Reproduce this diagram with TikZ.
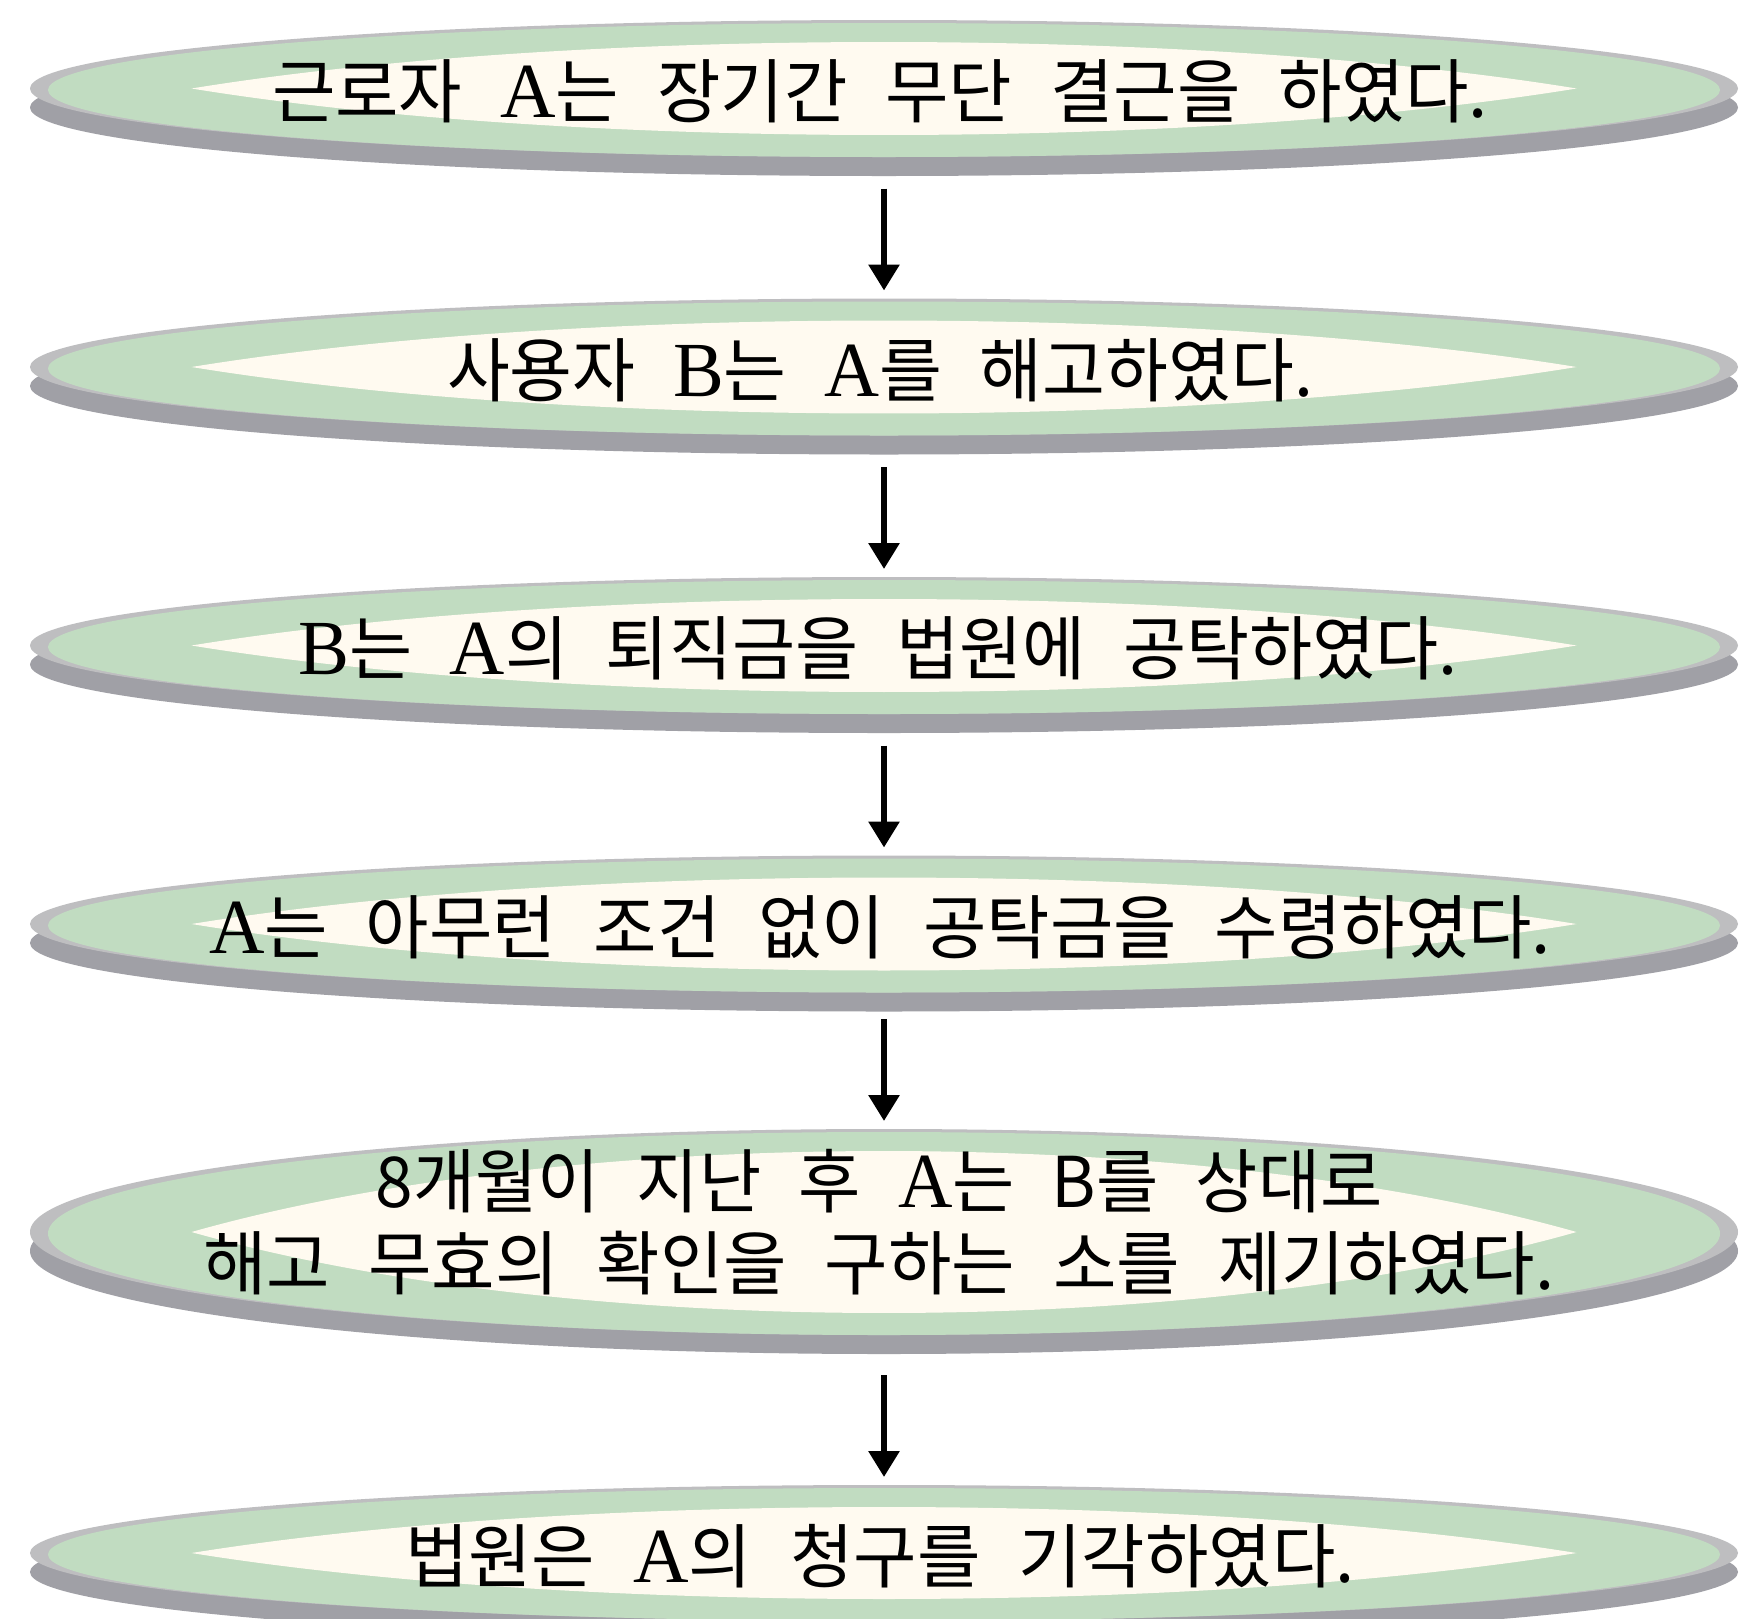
\documentclass[tikz,border=0pt]{standalone}
\usepackage{fontspec}
\usepackage{graphicx}
\usetikzlibrary{arrows.meta}
\newfontfamily\ko{Noto Sans CJK KR}
\newfontfamily\ser{Liberation Serif}
\newcommand\serA{{\ser\fontsize{78pt}{78pt}\selectfont A}}
\newcommand\serB{{\ser\fontsize{78pt}{78pt}\selectfont B}}
\newsavebox\fitbox
\newcommand\fitw[2]{\sbox\fitbox{\spaceskip=0.55em\relax #2}\pgfmathsetmacro\fitf{#1/\wd\fitbox}\scalebox{\fitf}[1]{\usebox\fitbox}}
\definecolor{shadowgray}{RGB}{160,160,166}
\definecolor{rimgray}{RGB}{190,190,192}
\definecolor{discgreen}{RGB}{193,220,193}
\definecolor{creamc}{RGB}{255,250,240}
\newcommand\Disc[3]{%
  \fill[shadowgray] (884,#2+19) ellipse [x radius=854, y radius=#3];
  \fill[rimgray] (884,#2) ellipse [x radius=854, y radius=#3];
  \fill[discgreen] (884,#2+1.5) ellipse [x radius=836, y radius=#3-1.5];
  \fill[creamc] (191.5,#2) .. controls (884-0.45*692.5,#2-1.333*#3+1.333*22) and (884+0.45*692.5,#2-1.333*#3+1.333*22) .. (1576.5,#2)
     .. controls (884+0.45*692.5,#2+1.333*#3-1.333*22) and (884-0.45*692.5,#2+1.333*#3-1.333*22) .. (191.5,#2) -- cycle;
  \coordinate (#1in) at (884,#2-#3-8);
  \coordinate (#1from) at (884,#2-#3-110);
}
\tikzset{
  txt/.style={inner sep=0pt, font=\ko\fontsize{70pt}{82pt}\selectfont},
  arr/.style={line width=6pt, -{Triangle[length=26pt,width=30pt]}}
}
\begin{document}
\begin{tikzpicture}[x=1pt,y=-1pt]
\useasboundingbox (0,0) rectangle (1741,1618);
\clip (0,0) rectangle (1741,1618);
\fill[white] (0,0) rectangle (1741,1618);
\Disc{d1}{88.5}{68.5}
\Disc{d2}{367}{68.5}
\Disc{d3}{645.5}{68.5}
\Disc{d4}{924}{68.5}
\Disc{d5}{1232}{103}
\Disc{d6}{1553}{68}
\node[txt] (n1) at (880,91.5) {\fitw{1216}{근로자 \serA{}는 장기간 무단 결근을 하였다.}};
\node[txt] (n2) at (880,370) {\fitw{866}{사용자 \serB{}는 \serA{}를 해고하였다.}};
\node[txt] (n3) at (878,648.5) {\fitw{1160}{\serB{}는 \serA{}의 퇴직금을 법원에 공탁하였다.}};
\node[txt] (n4) at (880,927) {\fitw{1342}{\serA{}는 아무런 조건 없이 공탁금을 수령하였다.}};
\node[txt] (n5a) at (879,1181) {\fitw{1007}{8개월이 지난 후 \serA{}는 B를 상대로}};
\node[txt] (n5b) at (879,1263) {\fitw{1351}{해고 무효의 확인을 구하는 소를 제기하였다.}};
\node[txt] (n6) at (880,1556) {\fitw{950}{법원은 \serA{}의 청구를 기각하였다.}};
\draw[arr] (d2from) -- (d2in);
\draw[arr] (d3from) -- (d3in);
\draw[arr] (d4from) -- (d4in);
\draw[arr] (d5from) -- (d5in);
\draw[arr] (d6from) -- (d6in);
\end{tikzpicture}
\end{document}
